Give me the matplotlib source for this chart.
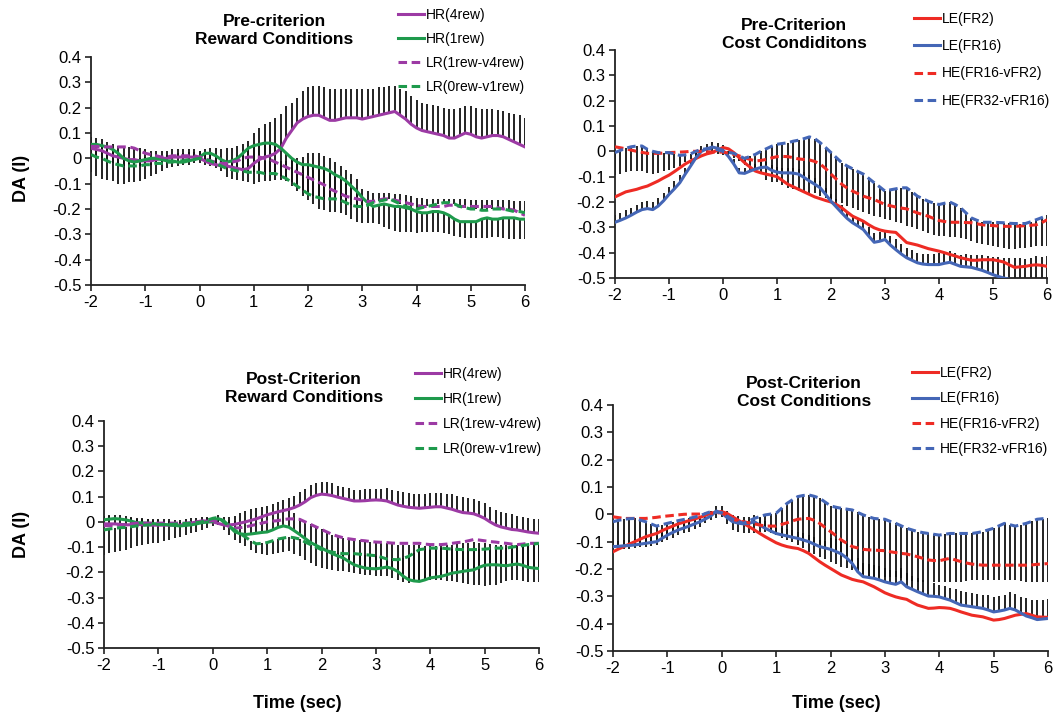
import numpy as np
import matplotlib
matplotlib.use("Agg")
import matplotlib.pyplot as plt

plt.rcParams['font.family'] = ['Liberation Sans', 'DejaVu Sans']
plt.rcParams['axes.unicode_minus'] = False

# sample times (sec), one every 0.1 s
t = np.round(np.arange(-20, 61) / 10, 1)

x_ticks = [-2, -1, 0, 1, 2, 3, 4, 5, 6]
y_ticks = [-0.5, -0.4, -0.3, -0.2, -0.1, 0, 0.1, 0.2, 0.3, 0.4]
y_tick_labels = ['-0.5', '-0.4', '-0.3', '-0.2', '-0.1', '0', '0.1', '0.2', '0.3', '0.4']

# ---------------- Pre-criterion, reward conditions ----------------
pre_hr4 = [0.04, 0.035, 0.03, 0.02, 0.01, 0.005, 0.0, -0.005, -0.005, -0.01,
           -0.01, -0.01, -0.005, 0.0, 0.0, 0.005, 0.005, 0.005, 0.005, 0.005,
           0.0, -0.01, -0.02, -0.025, -0.03, -0.03, -0.035, -0.04, -0.045, -0.04,
           -0.02, -0.005, 0.005, 0.01, 0.02, 0.04, 0.08, 0.11, 0.14, 0.155,
           0.165, 0.17, 0.17, 0.16, 0.15, 0.15, 0.155, 0.16, 0.16, 0.16,
           0.155, 0.16, 0.165, 0.17, 0.175, 0.18, 0.185, 0.17, 0.155, 0.135,
           0.12, 0.11, 0.105, 0.1, 0.095, 0.09, 0.08, 0.08, 0.09, 0.1,
           0.095, 0.085, 0.08, 0.085, 0.09, 0.09, 0.085, 0.075, 0.065, 0.055,
           0.045]
pre_hr4_err = [0.045, 0.045, 0.045, 0.045, 0.045, 0.045, 0.045, 0.05, 0.05, 0.05,
               0.045, 0.04, 0.035, 0.03, 0.03, 0.03, 0.03, 0.03, 0.03, 0.03,
               0.03, 0.045, 0.06, 0.065, 0.065, 0.07, 0.075, 0.09, 0.1, 0.11,
               0.12, 0.125, 0.13, 0.135, 0.14, 0.135, 0.125, 0.11, 0.1, 0.11,
               0.115, 0.115, 0.115, 0.12, 0.125, 0.125, 0.12, 0.115, 0.115, 0.115,
               0.12, 0.115, 0.11, 0.11, 0.105, 0.105, 0.1, 0.105, 0.11, 0.11,
               0.11, 0.11, 0.11, 0.11, 0.11, 0.11, 0.115, 0.115, 0.11, 0.105,
               0.11, 0.115, 0.115, 0.11, 0.105, 0.1, 0.1, 0.105, 0.11, 0.115,
               0.115]
pre_hr1 = [0.055, 0.055, 0.05, 0.045, 0.035, 0.02, 0.0, -0.01, -0.015, -0.01,
           -0.005, 0.0, 0.0, -0.005, -0.01, -0.01, -0.015, -0.015, -0.01, -0.005,
           0.005, 0.02, 0.02, 0.01, -0.005, -0.015, -0.01, 0.0, 0.02, 0.04,
           0.05, 0.055, 0.06, 0.06, 0.055, 0.04, 0.02, 0.0, -0.015, -0.025,
           -0.025, -0.03, -0.035, -0.04, -0.05, -0.065, -0.075, -0.09, -0.11, -0.13,
           -0.155, -0.175, -0.19, -0.185, -0.18, -0.185, -0.19, -0.19, -0.195, -0.2,
           -0.21, -0.215, -0.215, -0.21, -0.21, -0.215, -0.225, -0.24, -0.25, -0.25,
           -0.25, -0.25, -0.24, -0.235, -0.24, -0.24, -0.235, -0.235, -0.235, -0.24,
           -0.24]
pre_hr1_err = [0.11, 0.125, 0.13, 0.13, 0.125, 0.12, 0.1, 0.085, 0.08, 0.08,
               0.075, 0.07, 0.06, 0.045, 0.03, 0.025, 0.015, 0.01, 0.015, 0.015,
               0.025, 0.045, 0.05, 0.05, 0.045, 0.06, 0.07, 0.085, 0.11, 0.135,
               0.15, 0.15, 0.15, 0.15, 0.14, 0.125, 0.11, 0.11, 0.115, 0.125,
               0.14, 0.15, 0.165, 0.165, 0.16, 0.145, 0.14, 0.135, 0.13, 0.12,
               0.1, 0.08, 0.065, 0.075, 0.09, 0.095, 0.095, 0.1, 0.095, 0.09,
               0.085, 0.075, 0.075, 0.08, 0.08, 0.08, 0.075, 0.065, 0.06, 0.065,
               0.065, 0.065, 0.075, 0.08, 0.07, 0.07, 0.08, 0.085, 0.085, 0.08,
               0.08]
pre_lr4 = [0.047, 0.047, 0.045, 0.045, 0.045, 0.045, 0.045, 0.045, 0.04, 0.03,
           0.02, 0.015, 0.01, 0.005, 0.005, 0.01, 0.01, 0.01, 0.01, 0.01,
           0.005, 0.0, -0.01, -0.015, -0.02, -0.02, -0.015, -0.01, 0.0, 0.005,
           0.005, 0.005, 0.0, -0.005, -0.015, -0.025, -0.035, -0.045, -0.055, -0.065,
           -0.075, -0.085, -0.095, -0.105, -0.12, -0.13, -0.14, -0.15, -0.155, -0.16,
           -0.165, -0.17, -0.17, -0.165, -0.16, -0.16, -0.165, -0.17, -0.175, -0.18,
           -0.185, -0.19, -0.19, -0.19, -0.19, -0.19, -0.185, -0.185, -0.19, -0.19,
           -0.19, -0.19, -0.19, -0.19, -0.19, -0.195, -0.2, -0.2, -0.205, -0.215,
           -0.225]
pre_lr0 = [0.015, 0.005, 0.0, -0.01, -0.02, -0.025, -0.03, -0.03, -0.03, -0.03,
           -0.025, -0.025, -0.02, -0.02, -0.015, -0.015, -0.01, -0.01, -0.005, -0.005,
           0.0, -0.005, -0.01, -0.02, -0.03, -0.04, -0.045, -0.05, -0.05, -0.055,
           -0.055, -0.055, -0.06, -0.06, -0.06, -0.07, -0.08, -0.095, -0.11, -0.125,
           -0.14, -0.15, -0.155, -0.16, -0.16, -0.16, -0.165, -0.175, -0.185, -0.19,
           -0.19, -0.185, -0.175, -0.17, -0.165, -0.16, -0.17, -0.18, -0.19, -0.195,
           -0.2, -0.195, -0.19, -0.185, -0.18, -0.175, -0.175, -0.18, -0.19, -0.195,
           -0.2, -0.2, -0.205, -0.205, -0.2, -0.2, -0.2, -0.205, -0.21, -0.21,
           -0.215]
pre_lr0_err = [0.03, 0.03, 0.03, 0.03, 0.03, 0.03, 0.03, 0.03, 0.03, 0.03,
               0.03, 0.03, 0.03, 0.03, 0.03, 0.03, 0.03, 0.03, 0.03, 0.03,
               0.03, 0.03, 0.03, 0.03, 0.03, 0.03, 0.03, 0.03, 0.03, 0.03,
               0.05, 0.05, 0.05, 0.05, 0.05, 0.06, 0.07, 0.09, 0.11, 0.13,
               0.16, 0.17, 0.175, 0.17, 0.16, 0.145, 0.135, 0.13, 0.125, 0.11,
               0.07, 0.055, 0.04, 0.035, 0.03, 0.025, 0.03, 0.04, 0.045, 0.045,
               0.045, 0.04, 0.03, 0.025, 0.02, 0.015, 0.015, 0.02, 0.03, 0.035,
               0.035, 0.035, 0.04, 0.04, 0.035, 0.035, 0.035, 0.04, 0.04, 0.04,
               0.045]

# ---------------- Pre-criterion, cost conditions ----------------
pre_le2 = [-0.18, -0.17, -0.16, -0.155, -0.15, -0.143, -0.137, -0.127, -0.117, -0.105,
           -0.094, -0.08, -0.065, -0.05, -0.038, -0.028, -0.018, -0.01, -0.005, 0.005,
           0.015, 0.01, -0.005, -0.025, -0.045, -0.062, -0.078, -0.085, -0.09, -0.095,
           -0.1, -0.115, -0.13, -0.14, -0.15, -0.16, -0.17, -0.18, -0.187, -0.194,
           -0.2, -0.21, -0.223, -0.24, -0.256, -0.266, -0.276, -0.29, -0.302, -0.31,
           -0.315, -0.318, -0.32, -0.34, -0.36, -0.365, -0.37, -0.377, -0.384, -0.389,
           -0.394, -0.4, -0.407, -0.413, -0.42, -0.425, -0.43, -0.43, -0.428, -0.428,
           -0.428, -0.432, -0.437, -0.448, -0.458, -0.456, -0.454, -0.45, -0.448, -0.45,
           -0.454]
pre_le16 = [-0.28, -0.272, -0.263, -0.252, -0.24, -0.23, -0.226, -0.23, -0.216, -0.195,
            -0.17, -0.148, -0.124, -0.09, -0.058, -0.025, 0.0, 0.01, 0.017, 0.012,
            0.004, -0.02, -0.05, -0.085, -0.087, -0.078, -0.07, -0.064, -0.062, -0.075,
            -0.082, -0.085, -0.085, -0.086, -0.09, -0.103, -0.117, -0.13, -0.144, -0.17,
            -0.197, -0.22, -0.243, -0.265, -0.282, -0.295, -0.309, -0.335, -0.359, -0.355,
            -0.348, -0.37, -0.388, -0.405, -0.42, -0.43, -0.44, -0.445, -0.447, -0.447,
            -0.447, -0.442, -0.438, -0.446, -0.454, -0.456, -0.458, -0.464, -0.47, -0.478,
            -0.487, -0.494, -0.5, -0.505, -0.51, -0.515, -0.52, -0.522, -0.525, -0.528,
            -0.53]
pre_le16_err = [0.03, 0.03, 0.03, 0.03, 0.03, 0.03, 0.03, 0.03, 0.03, 0.03,
                0.03, 0.03, 0.03, 0.025, 0.025, 0.02, 0.02, 0.02, 0.02, 0.02,
                0.02, 0.02, 0.02, 0.02, 0.02, 0.02, 0.02, 0.02, 0.02, 0.02,
                0.02, 0.02, 0.02, 0.02, 0.02, 0.02, 0.025, 0.025, 0.025, 0.025,
                0.03, 0.03, 0.03, 0.03, 0.03, 0.03, 0.03, 0.035, 0.035, 0.035,
                0.035, 0.035, 0.04, 0.04, 0.04, 0.04, 0.04, 0.04, 0.04, 0.04,
                0.045, 0.045, 0.045, 0.045, 0.045, 0.05, 0.05, 0.055, 0.06, 0.065,
                0.07, 0.075, 0.08, 0.085, 0.09, 0.095, 0.095, 0.1, 0.11, 0.11,
                0.115]
pre_he16 = [0.018, 0.014, 0.01, 0.005, 0.0, -0.004, -0.008, -0.008, -0.008, -0.007,
            -0.005, -0.004, -0.003, -0.002, 0.0, 0.0, 0.0, -0.001, -0.003, -0.003,
            -0.003, -0.007, -0.012, -0.018, -0.025, -0.032, -0.038, -0.036, -0.032, -0.026,
            -0.021, -0.02, -0.021, -0.025, -0.03, -0.032, -0.034, -0.04, -0.05, -0.068,
            -0.09, -0.11, -0.13, -0.145, -0.157, -0.167, -0.177, -0.184, -0.19, -0.2,
            -0.21, -0.215, -0.22, -0.224, -0.227, -0.235, -0.243, -0.25, -0.256, -0.265,
            -0.273, -0.277, -0.28, -0.28, -0.28, -0.281, -0.282, -0.286, -0.29, -0.292,
            -0.293, -0.295, -0.296, -0.296, -0.296, -0.295, -0.293, -0.292, -0.29, -0.282,
            -0.27]
pre_he32 = [-0.005, 0.004, 0.012, 0.018, 0.021, 0.021, 0.008, 0.0, -0.005, -0.005,
            -0.005, -0.01, -0.016, -0.014, -0.01, 0.0, 0.008, 0.01, 0.012, 0.006,
            0.0, -0.004, -0.008, -0.018, -0.028, -0.02, -0.012, 0.0, 0.01, 0.02,
            0.028, 0.031, 0.034, 0.04, 0.044, 0.05, 0.057, 0.05, 0.034, 0.015,
            -0.005, -0.025, -0.045, -0.058, -0.069, -0.08, -0.09, -0.107, -0.124, -0.14,
            -0.157, -0.152, -0.148, -0.144, -0.144, -0.16, -0.177, -0.187, -0.197, -0.204,
            -0.21, -0.205, -0.2, -0.21, -0.223, -0.243, -0.263, -0.272, -0.28, -0.28,
            -0.28, -0.281, -0.282, -0.284, -0.285, -0.285, -0.285, -0.278, -0.27, -0.262,
            -0.253]
pre_he32_err = [0.09, 0.092, 0.094, 0.096, 0.098, 0.1, 0.095, 0.09, 0.08, 0.072,
                0.068, 0.055, 0.04, 0.03, 0.02, 0.015, 0.015, 0.015, 0.015, 0.015,
                0.015, 0.018, 0.02, 0.02, 0.025, 0.045, 0.06, 0.09, 0.125, 0.14,
                0.15, 0.165, 0.18, 0.19, 0.2, 0.21, 0.22, 0.215, 0.21, 0.2,
                0.185, 0.17, 0.16, 0.158, 0.155, 0.152, 0.15, 0.14, 0.13, 0.12,
                0.11, 0.12, 0.13, 0.14, 0.15, 0.14, 0.13, 0.128, 0.125, 0.125,
                0.125, 0.13, 0.14, 0.13, 0.12, 0.105, 0.09, 0.088, 0.085, 0.09,
                0.095, 0.098, 0.1, 0.1, 0.1, 0.098, 0.095, 0.1, 0.105, 0.112,
                0.12]

# ---------------- Post-criterion, reward conditions ----------------
post_hr4 = [-0.008, -0.008, -0.008, -0.01, -0.012, -0.011, -0.01, -0.011, -0.012, -0.013,
            -0.013, -0.013, -0.013, -0.013, -0.012, -0.01, -0.005, 0.0, 0.004, 0.003,
            0.0, -0.006, -0.012, -0.012, -0.01, -0.005, 0.0, 0.006, 0.012, 0.02,
            0.028, 0.034, 0.04, 0.045, 0.05, 0.057, 0.067, 0.08, 0.096, 0.105,
            0.11, 0.108, 0.104, 0.098, 0.093, 0.088, 0.083, 0.083, 0.084, 0.086,
            0.087, 0.086, 0.083, 0.075, 0.067, 0.062, 0.058, 0.056, 0.054, 0.056,
            0.058, 0.06, 0.06, 0.055, 0.05, 0.043, 0.037, 0.035, 0.032, 0.024,
            0.014, 0.0, -0.012, -0.02, -0.025, -0.03, -0.032, -0.036, -0.04, -0.043,
            -0.045]
post_hr4_err = [0.03, 0.03, 0.025, 0.025, 0.025, 0.025, 0.025, 0.025, 0.025, 0.025,
                0.025, 0.025, 0.025, 0.02, 0.02, 0.02, 0.02, 0.015, 0.015, 0.015,
                0.015, 0.02, 0.025, 0.03, 0.035, 0.04, 0.045, 0.045, 0.045, 0.04,
                0.035, 0.035, 0.04, 0.04, 0.045, 0.045, 0.05, 0.05, 0.05, 0.05,
                0.05, 0.05, 0.05, 0.045, 0.045, 0.045, 0.045, 0.045, 0.045, 0.045,
                0.045, 0.045, 0.05, 0.05, 0.055, 0.055, 0.055, 0.055, 0.055, 0.055,
                0.055, 0.055, 0.055, 0.055, 0.06, 0.06, 0.06, 0.06, 0.06, 0.06,
                0.06, 0.06, 0.06, 0.06, 0.06, 0.06, 0.055, 0.055, 0.055, 0.055,
                0.055]
post_hr1 = [0.008, 0.011, 0.013, 0.011, 0.008, 0.003, -0.003, -0.004, -0.005, -0.007,
            -0.008, -0.01, -0.012, -0.014, -0.016, -0.014, -0.012, -0.008, -0.003, -0.001,
            0.001, 0.013, 0.005, -0.016, -0.038, -0.047, -0.05, -0.048, -0.045, -0.042,
            -0.04, -0.032, -0.022, -0.016, -0.021, -0.035, -0.05, -0.066, -0.082, -0.093,
            -0.104, -0.115, -0.126, -0.135, -0.143, -0.157, -0.17, -0.177, -0.183, -0.185,
            -0.186, -0.183, -0.179, -0.185, -0.196, -0.215, -0.229, -0.234, -0.236, -0.23,
            -0.222, -0.219, -0.216, -0.21, -0.203, -0.2, -0.196, -0.193, -0.19, -0.18,
            -0.172, -0.17, -0.17, -0.172, -0.174, -0.17, -0.167, -0.172, -0.18, -0.183,
            -0.185]
post_hr1_err = [0.015, 0.015, 0.015, 0.015, 0.015, 0.015, 0.015, 0.015, 0.015, 0.015,
                0.015, 0.015, 0.015, 0.015, 0.015, 0.015, 0.015, 0.015, 0.015, 0.015,
                0.015, 0.015, 0.015, 0.025, 0.04, 0.045, 0.055, 0.06, 0.06, 0.065,
                0.068, 0.065, 0.062, 0.065, 0.07, 0.07, 0.06, 0.065, 0.072, 0.073,
                0.074, 0.075, 0.076, 0.078, 0.08, 0.09, 0.1, 0.104, 0.108, 0.107,
                0.106, 0.1, 0.094, 0.1, 0.106, 0.122, 0.139, 0.143, 0.146, 0.136,
                0.127, 0.124, 0.121, 0.117, 0.113, 0.112, 0.111, 0.11, 0.11, 0.098,
                0.087, 0.083, 0.08, 0.082, 0.084, 0.08, 0.077, 0.083, 0.09, 0.093,
                0.095]
post_lr4 = [-0.015, -0.015, -0.015, -0.012, -0.01, -0.008, -0.005, -0.005, -0.005, -0.005,
            -0.005, -0.005, -0.005, -0.005, -0.005, -0.005, -0.003, -0.001, 0.001, 0.003,
            0.005, -0.002, -0.01, -0.018, -0.025, -0.023, -0.02, -0.015, -0.01, -0.005,
            0.0, 0.003, 0.005, 0.009, 0.012, 0.012, 0.01, 0.0, -0.01, -0.02,
            -0.03, -0.04, -0.05, -0.057, -0.063, -0.067, -0.07, -0.073, -0.075, -0.078,
            -0.08, -0.081, -0.082, -0.084, -0.085, -0.085, -0.085, -0.085, -0.085, -0.088,
            -0.09, -0.09, -0.09, -0.088, -0.085, -0.082, -0.08, -0.075, -0.07, -0.072,
            -0.075, -0.078, -0.08, -0.083, -0.085, -0.088, -0.09, -0.088, -0.085, -0.085,
            -0.085]
post_lr0 = [-0.032, -0.028, -0.025, -0.023, -0.022, -0.019, -0.016, -0.014, -0.012, -0.011,
            -0.01, -0.01, -0.01, -0.009, -0.008, -0.006, -0.005, -0.003, 0.0, 0.007,
            0.014, 0.018, 0.0, -0.016, -0.032, -0.046, -0.06, -0.075, -0.087, -0.085,
            -0.082, -0.075, -0.068, -0.064, -0.06, -0.063, -0.068, -0.08, -0.09, -0.1,
            -0.11, -0.115, -0.12, -0.123, -0.126, -0.126, -0.126, -0.128, -0.13, -0.132,
            -0.134, -0.14, -0.147, -0.149, -0.15, -0.145, -0.137, -0.124, -0.11, -0.107,
            -0.104, -0.104, -0.104, -0.106, -0.108, -0.109, -0.11, -0.11, -0.11, -0.109,
            -0.108, -0.106, -0.104, -0.104, -0.104, -0.1, -0.097, -0.094, -0.09, -0.088,
            -0.085]
post_lr0_err = [0.098, 0.097, 0.095, 0.092, 0.088, 0.085, 0.081, 0.078, 0.075, 0.073,
                0.072, 0.066, 0.06, 0.055, 0.05, 0.045, 0.04, 0.036, 0.032, 0.031,
                0.03, 0.031, 0.032, 0.035, 0.038, 0.038, 0.037, 0.037, 0.037, 0.042,
                0.048, 0.052, 0.056, 0.057, 0.057, 0.063, 0.069, 0.071, 0.073, 0.073,
                0.073, 0.073, 0.072, 0.071, 0.07, 0.074, 0.077, 0.078, 0.079, 0.079,
                0.079, 0.074, 0.069, 0.074, 0.079, 0.092, 0.105, 0.115, 0.126, 0.126,
                0.125, 0.125, 0.125, 0.127, 0.128, 0.13, 0.132, 0.135, 0.139, 0.143,
                0.147, 0.146, 0.145, 0.138, 0.132, 0.132, 0.132, 0.14, 0.15, 0.152,
                0.155]

# ---------------- Post-criterion, cost conditions ----------------
post_le2 = [-0.137, -0.127, -0.118, -0.109, -0.1, -0.091, -0.082, -0.076, -0.07, -0.06,
            -0.051, -0.043, -0.035, -0.029, -0.023, -0.017, -0.011, -0.004, 0.004, 0.008,
            0.01, 0.003, -0.009, -0.021, -0.033, -0.045, -0.057, -0.07, -0.082, -0.093,
            -0.104, -0.112, -0.118, -0.122, -0.125, -0.133, -0.143, -0.158, -0.173, -0.186,
            -0.198, -0.21, -0.222, -0.23, -0.238, -0.243, -0.247, -0.256, -0.265, -0.276,
            -0.287, -0.295, -0.302, -0.307, -0.311, -0.322, -0.332, -0.338, -0.344, -0.343,
            -0.341, -0.342, -0.344, -0.35, -0.357, -0.363, -0.369, -0.372, -0.375, -0.381,
            -0.387, -0.385, -0.381, -0.375, -0.369, -0.366, -0.363, -0.369, -0.375, -0.376,
            -0.377]
post_le16 = [-0.118, -0.117, -0.115, -0.114, -0.112, -0.109, -0.106, -0.103, -0.1, -0.088,
             -0.076, -0.066, -0.057, -0.05, -0.043, -0.035, -0.027, -0.017, -0.006, 0.012,
             0.004, -0.012, -0.027, -0.032, -0.035, -0.033, -0.027, -0.04, -0.051, -0.061,
             -0.07, -0.075, -0.079, -0.084, -0.088, -0.094, -0.1, -0.109, -0.118, -0.123,
             -0.128, -0.136, -0.145, -0.16, -0.18, -0.21, -0.228, -0.231, -0.234, -0.24,
             -0.247, -0.252, -0.256, -0.247, -0.265, -0.274, -0.283, -0.291, -0.299, -0.3,
             -0.302, -0.308, -0.314, -0.323, -0.332, -0.335, -0.338, -0.341, -0.344, -0.35,
             -0.357, -0.354, -0.35, -0.344, -0.35, -0.361, -0.372, -0.378, -0.385, -0.383,
             -0.381]
post_le16_err = [0.02, 0.02, 0.02, 0.02, 0.02, 0.02, 0.02, 0.02, 0.02, 0.02,
                 0.02, 0.02, 0.02, 0.02, 0.02, 0.02, 0.02, 0.02, 0.02, 0.02,
                 0.025, 0.025, 0.025, 0.025, 0.025, 0.025, 0.025, 0.025, 0.025, 0.025,
                 0.025, 0.025, 0.025, 0.025, 0.025, 0.025, 0.025, 0.025, 0.025, 0.025,
                 0.04, 0.045, 0.05, 0.05, 0.05, 0.05, 0.05, 0.05, 0.05, 0.05,
                 0.05, 0.05, 0.05, 0.05, 0.05, 0.05, 0.05, 0.05, 0.05, 0.05,
                 0.045, 0.045, 0.045, 0.05, 0.05, 0.05, 0.05, 0.05, 0.05, 0.055,
                 0.055, 0.055, 0.055, 0.06, 0.06, 0.06, 0.065, 0.065, 0.07, 0.07,
                 0.07]
post_he16 = [-0.009, -0.012, -0.015, -0.015, -0.015, -0.015, -0.015, -0.013, -0.011, -0.008,
             -0.006, -0.004, -0.002, 0.0, 0.001, 0.001, 0.001, 0.003, 0.004, 0.005,
             0.006, -0.006, -0.018, -0.023, -0.027, -0.031, -0.035, -0.039, -0.043, -0.043,
             -0.043, -0.037, -0.031, -0.024, -0.018, -0.016, -0.015, -0.022, -0.033, -0.048,
             -0.063, -0.078, -0.094, -0.106, -0.118, -0.123, -0.128, -0.13, -0.131, -0.132,
             -0.133, -0.137, -0.14, -0.143, -0.145, -0.15, -0.155, -0.161, -0.167, -0.169,
             -0.17, -0.165, -0.161, -0.167, -0.173, -0.178, -0.182, -0.184, -0.186, -0.186,
             -0.186, -0.186, -0.186, -0.186, -0.186, -0.186, -0.186, -0.185, -0.183, -0.182,
             -0.18]
post_he32 = [-0.027, -0.022, -0.018, -0.016, -0.015, -0.021, -0.027, -0.035, -0.043, -0.038,
             -0.033, -0.028, -0.023, -0.019, -0.015, -0.01, -0.005, 0.003, 0.01, 0.008,
             0.006, -0.006, -0.018, -0.026, -0.033, -0.024, -0.015, -0.008, -0.002, 0.001,
             0.004, 0.022, 0.04, 0.053, 0.065, 0.069, 0.071, 0.066, 0.059, 0.045,
             0.031, 0.026, 0.022, 0.019, 0.016, 0.007, -0.002, -0.009, -0.015, -0.017,
             -0.018, -0.026, -0.033, -0.042, -0.051, -0.057, -0.063, -0.067, -0.07, -0.073,
             -0.076, -0.073, -0.07, -0.07, -0.07, -0.07, -0.07, -0.067, -0.063, -0.057,
             -0.051, -0.042, -0.033, -0.038, -0.043, -0.038, -0.033, -0.026, -0.018, -0.016,
             -0.015]
post_he32_err = [0.103, 0.107, 0.11, 0.11, 0.11, 0.1, 0.091, 0.08, 0.069, 0.065,
                 0.061, 0.057, 0.053, 0.05, 0.048, 0.044, 0.04, 0.035, 0.03, 0.023,
                 0.016, 0.028, 0.039, 0.038, 0.037, 0.046, 0.055, 0.058, 0.061, 0.07,
                 0.08, 0.107, 0.134, 0.155, 0.177, 0.192, 0.208, 0.211, 0.214, 0.209,
                 0.204, 0.209, 0.214, 0.217, 0.22, 0.22, 0.22, 0.216, 0.213, 0.211,
                 0.21, 0.202, 0.195, 0.192, 0.189, 0.186, 0.184, 0.18, 0.177, 0.174,
                 0.171, 0.174, 0.177, 0.177, 0.177, 0.173, 0.17, 0.173, 0.177, 0.183,
                 0.189, 0.198, 0.207, 0.202, 0.197, 0.205, 0.214, 0.221, 0.229, 0.23,
                 0.232]

reward_labels = ['HR(4rew)', 'HR(1rew)', 'LR(1rew-v4rew)', 'LR(0rew-v1rew)']
cost_labels = ['LE(FR2)', 'LE(FR16)', 'HE(FR16-vFR2)', 'HE(FR32-vFR16)']

PURPLE = '#9c3aa4'
GREEN = '#1e9a4c'
RED = '#ee2b24'
BLUE = '#4466b6'

W, H = 1057, 715
fig = plt.figure(figsize=(W / 100, H / 100), dpi=100)


def px_rect(left, top, right, bottom):
    return [left / W, 1 - bottom / H, (right - left) / W, (bottom - top) / H]


def draw_panel(rect, lines, labels, bars, title, title_pos, leg_pos, leg_space):
    ax = fig.add_axes(rect)
    for vals, err, sign in bars:
        v = np.array(vals)
        e = np.array(err)
        if sign > 0:
            ax.vlines(t, v, v + e, color='#111111', lw=1.3, zorder=1)
        else:
            ax.vlines(t, v - e, v, color='#111111', lw=1.3, zorder=1)
    handles = []
    for vals, color, dashed in lines:
        ls = (0, (2.8, 1.5)) if dashed else '-'
        h, = ax.plot(t, vals, color=color, lw=2.2, ls=ls, zorder=3)
        handles.append(h)
    ax.set_xlim(-2, 6)
    ax.set_ylim(-0.5, 0.4)
    ax.set_xticks(x_ticks)
    ax.set_xticklabels([str(v) for v in x_ticks])
    ax.set_yticks(y_ticks)
    ax.set_yticklabels(y_tick_labels)
    for s in ['top', 'right']:
        ax.spines[s].set_visible(False)
    for s in ['left', 'bottom']:
        ax.spines[s].set_linewidth(1.3)
        ax.spines[s].set_color('#222222')
    ax.tick_params(direction='out', length=4, width=1.2, labelsize=12,
                   colors='#222222', pad=3)
    ax.tick_params(labelcolor='black')
    fig.text(title_pos[0] / W, 1 - title_pos[1] / H, title, ha='center', va='center',
             fontsize=12.5, fontweight='bold', linespacing=1.25)
    fig.legend(handles, labels, loc='upper left',
               bbox_to_anchor=(leg_pos[0] / W, 1 - leg_pos[1] / H),
               frameon=False, fontsize=10, handlelength=1.9, handletextpad=0.1,
               labelspacing=leg_space, borderpad=0, borderaxespad=0)
    return ax


# top left
draw_panel(px_rect(91, 57, 525, 285),
           [(pre_hr4, PURPLE, False), (pre_hr1, GREEN, False),
            (pre_lr4, PURPLE, True), (pre_lr0, GREEN, True)], reward_labels,
           [(pre_hr4, pre_hr4_err, 1), (pre_hr1, pre_hr1_err, -1), (pre_lr0, pre_lr0_err, 1)],
           'Pre-criterion\nReward Conditions', (274, 31), (398, 8), 0.72)

# top right
draw_panel(px_rect(615, 50, 1047, 278),
           [(pre_le2, RED, False), (pre_le16, BLUE, False),
            (pre_he16, RED, True), (pre_he32, BLUE, True)], cost_labels,
           [(pre_le16, pre_le16_err, 1), (pre_he32, pre_he32_err, -1)],
           'Pre-Criterion\nCost Condiditons', (794, 34), (914, 12), 0.95)

# bottom left
draw_panel(px_rect(104, 421, 539, 648),
           [(post_hr4, PURPLE, False), (post_hr1, GREEN, False),
            (post_lr4, PURPLE, True), (post_lr0, GREEN, True)], reward_labels,
           [(post_hr4, post_hr4_err, 1), (post_hr1, post_hr1_err, 1), (post_lr0, post_lr0_err, -1)],
           'Post-Criterion\nReward Conditions', (304, 389), (415, 367), 0.8)

# bottom right
draw_panel(px_rect(613, 405, 1048, 651),
           [(post_le2, RED, False), (post_le16, BLUE, False),
            (post_he16, RED, True), (post_he32, BLUE, True)], cost_labels,
           [(post_le16, post_le16_err, 1), (post_he32, post_he32_err, -1)],
           'Post-Criterion\nCost Conditions', (804, 392), (912, 366), 0.82)

for ypos in [178, 534]:
    fig.text(21 / W, 1 - ypos / H, 'DA (I)', rotation=90, ha='center', va='center',
             fontsize=13, fontweight='bold')
for xpos in [297, 836]:
    fig.text(xpos / W, 1 - 704 / H, 'Time (sec)', ha='center', va='center',
             fontsize=13, fontweight='bold')

fig.savefig('out.png', dpi=100)
